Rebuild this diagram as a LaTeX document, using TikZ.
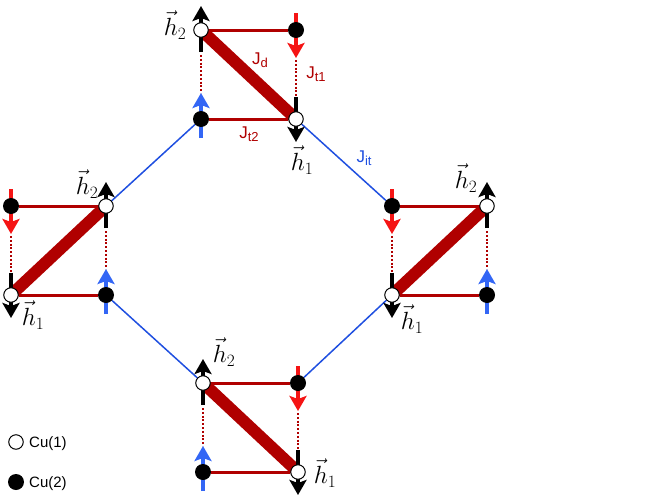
\documentclass[tikz,border=0pt]{standalone}
\usepackage{fontspec}
\setsansfont{Liberation Sans}
\usetikzlibrary{arrows.meta, backgrounds}
\definecolor{bondred}{HTML}{B00000}
\definecolor{itblue}{HTML}{1F4FE0}
\definecolor{spinblue}{HTML}{3366F5}
\definecolor{spinred}{HTML}{F51414}
\newcommand{\jsub}[1]{J\raisebox{-2.5pt}{\fontsize{13}{15}\selectfont #1}}
\tikzset{
    cuone/.style={circle, draw=black, fill=white, line width=1pt, minimum size=14.5pt, inner sep=0pt},
    cutwo/.style={circle, fill=black, minimum size=16pt, inner sep=0pt},
    spin/.style={line width=4pt, -{Stealth[length=15pt, width=17pt, inset=3pt]}},
    jlabel/.style={font=\sffamily\fontsize{17}{19}\selectfont, text=bondred, inner sep=0pt},
    hlabel/.style={font=\fontsize{25}{27}\selectfont, inner sep=0pt},
    leglabel/.style={font=\sffamily\fontsize{15}{17}\selectfont, anchor=west, inner sep=0pt}
}
\begin{document}
\begin{tikzpicture}[x=1pt, y=-1pt]
    \useasboundingbox (0, 0) rectangle (664, 498);

    % Sites of the four plaquettes
    \foreach \name/\px/\py/\tl/\tr/\bl/\br in {
        top/201/30/cuone/cutwo/cutwo/cuone,
        bot/203/383/cuone/cutwo/cutwo/cuone,
        lft/11/206/cutwo/cuone/cuone/cutwo,
        rgt/392/206/cutwo/cuone/cuone/cutwo} {
        \node[\tl] (\name-tl) at (\px, \py) {};
        \node[\tr] (\name-tr) at (\px + 95, \py) {};
        \node[\bl] (\name-bl) at (\px, \py + 89) {};
        \node[\br] (\name-br) at (\px + 95, \py + 89) {};
    }

    \begin{scope}[on background layer]
    % Jit links between plaquettes
    \draw[itblue, line width=1.5pt] (top-bl) -- (lft-tr);
    \draw[itblue, line width=1.5pt] (top-br) -- (rgt-tl);
    \draw[itblue, line width=1.5pt] (lft-br) -- (bot-tl);
    \draw[itblue, line width=1.5pt] (rgt-bl) -- (bot-tr);

    % Bonds and spins, behind the sites
    \foreach \name/\wup/\bup/\wdn/\bdn in {
        top/tl/tr/br/bl, bot/tl/tr/br/bl,
        lft/tr/tl/bl/br, rgt/tr/tl/bl/br} {
        % Rails
        \draw[bondred, line width=3pt] (\name-tl) -- (\name-tr);
        \draw[bondred, line width=3pt] (\name-bl) -- (\name-br);
        % Diagonal
        \draw[bondred, line width=12pt, line cap=round, shorten <=3pt, shorten >=3pt] (\name-\wup.center) -- (\name-\wdn.center);
        % Dotted rungs
        \draw[bondred, line width=2.2pt, dash pattern=on 2pt off 1.8pt, shorten <=25pt, shorten >=26pt] (\name-\wup.center) -- (\name-\bdn.center);
        \draw[bondred, line width=2.2pt, dash pattern=on 2pt off 1.8pt, shorten <=30pt, shorten >=23pt] (\name-\bup.center) -- (\name-\wdn.center);
        % Spins
        \draw[spin, black] ([yshift=-22pt]\name-\wup.center) -- ([yshift=24pt]\name-\wup.center);
        \draw[spin, black] ([yshift=22pt]\name-\wdn.center) -- ([yshift=-23pt]\name-\wdn.center);
        \draw[spin, spinred] ([yshift=17pt]\name-\bup.center) -- ([yshift=-28pt]\name-\bup.center);
        \draw[spin, spinblue] ([yshift=-19pt]\name-\bdn.center) -- ([yshift=26pt]\name-\bdn.center);
    }
    \end{scope}

    % Field labels
    \node[hlabel] (top-h2) at (175, 25) {$\vec{h}_2$};
    \node[hlabel] (top-h1) at (302, 160) {$\vec{h}_1$};
    \node[hlabel] (lft-h2) at (87, 184) {$\vec{h}_2$};
    \node[hlabel] (lft-h1) at (33, 315) {$\vec{h}_1$};
    \node[hlabel] (rgt-h2) at (466, 178) {$\vec{h}_2$};
    \node[hlabel] (rgt-h1) at (412, 319) {$\vec{h}_1$};
    \node[hlabel] (bot-h2) at (224, 352) {$\vec{h}_2$};
    \node[hlabel] (bot-h1) at (325, 473) {$\vec{h}_1$};

    % Coupling labels
    \node[jlabel] (jd) at (260, 60) {\jsub{d}};
    \node[jlabel] (jt1) at (316, 74) {\jsub{t1}};
    \node[jlabel] (jt2) at (249, 134) {\jsub{t2}};
    \node[jlabel, text=itblue] (jit) at (364, 158) {\jsub{it}};

    % Legend
    \node[cuone] (leg-one) at (16, 442) {};
    \node[cutwo] (leg-two) at (16, 482) {};
    \node[leglabel] (leg-onetext) at (29, 444) {Cu(1)};
    \node[leglabel] (leg-twotext) at (29, 484) {Cu(2)};
\end{tikzpicture}
\end{document}
